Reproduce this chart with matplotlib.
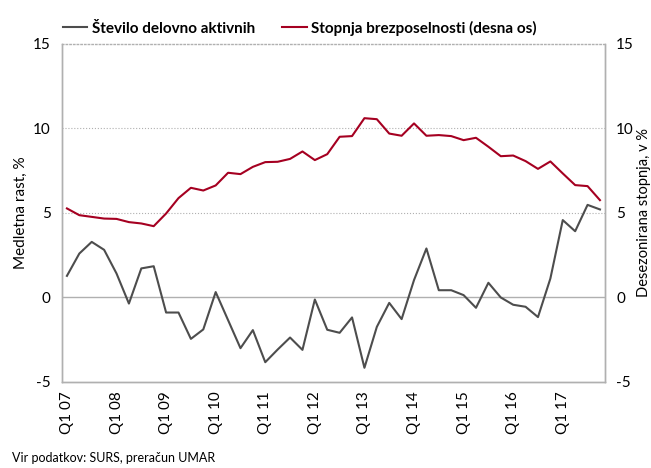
import numpy as np
import matplotlib.pyplot as plt

plt.rcParams['font.family'] = ['Lato', 'DejaVu Sans']
plt.rcParams['axes.unicode_minus'] = False

# quarterly data Q1 2007 - Q4 2017
quarters = [f"Q{q} {y:02d}" for y in range(7, 18) for q in range(1, 5)]
employed = [1.28, 2.60, 3.29, 2.82, 1.42, -0.36, 1.72, 1.85, -0.89, -0.89,
            -2.45, -1.89, 0.32, -1.34, -3.00, -1.93, -3.83, -3.08, -2.37, -3.10,
            -0.12, -1.91, -2.09, -1.18, -4.16, -1.74, -0.32, -1.28, 1.03, 2.90,
            0.43, 0.43, 0.14, -0.61, 0.87, 0.00, -0.43, -0.55, -1.16, 1.12,
            4.58, 3.92, 5.48, 5.21]
unemployment = [5.27, 4.87, 4.77, 4.67, 4.65, 4.46, 4.38, 4.22, 4.97, 5.88,
                6.49, 6.33, 6.63, 7.38, 7.30, 7.73, 8.01, 8.03, 8.20, 8.64,
                8.13, 8.48, 9.51, 9.55, 10.61, 10.55, 9.70, 9.57, 10.30, 9.57,
                9.61, 9.55, 9.31, 9.45, 8.92, 8.36, 8.40, 8.07, 7.61, 8.05,
                7.34, 6.65, 6.59, 5.76]

gray = '#4d4d4d'
red = '#a50021'
frame = '#b0b0b0'

fig = plt.figure(figsize=(6.51, 4.68), dpi=100)
ax = fig.add_axes([0.0952, 0.1838, 0.8340, 0.7222])
ax2 = ax.twinx()

x = np.arange(len(quarters))
l1, = ax.plot(x, employed, color=gray, lw=1.5, label='Število delovno aktivnih')
l2, = ax2.plot(x, unemployment, color=red, lw=1.5,
               label='Stopnja brezposelnosti (desna os)')

for a in (ax, ax2):
    a.set_ylim(-5, 15)
    a.set_yticks([-5, 0, 5, 10, 15])
    a.tick_params(axis='y', length=0, labelsize=11, pad=8)
    for s in a.spines.values():
        s.set_color(frame)
        s.set_linewidth(1.0)
ax2.spines['top'].set_visible(False)
ax.spines['top'].set_linestyle(':')

ax.set_xlim(-0.4, len(quarters) - 0.6)
ax.set_xticks(x[::4])
ax.set_xticklabels(quarters[::4], rotation=90, fontsize=11)
ax.tick_params(axis='x', length=0, pad=7)

for v in (5, 10):
    ax.axhline(v, color=frame, lw=0.8, ls=':', zorder=0)
ax.axhline(0, color=frame, lw=1.0, zorder=0)

ax.set_ylabel('Medletna rast, %', fontsize=11, labelpad=4)
ax2.set_ylabel('Desezonirana stopnja, v %', fontsize=10.5, labelpad=2)

fig.legend(handles=[l1, l2], loc='upper left', bbox_to_anchor=(0.075, 0.985),
           ncol=2, frameon=False, handlelength=1.6, handletextpad=0.3,
           columnspacing=1.8, prop={'weight': 'bold', 'size': 11})

fig.text(0.018, 0.012, 'Vir podatkov: SURS, preračun UMAR', fontsize=9)

fig.savefig('out.png', dpi=100)
